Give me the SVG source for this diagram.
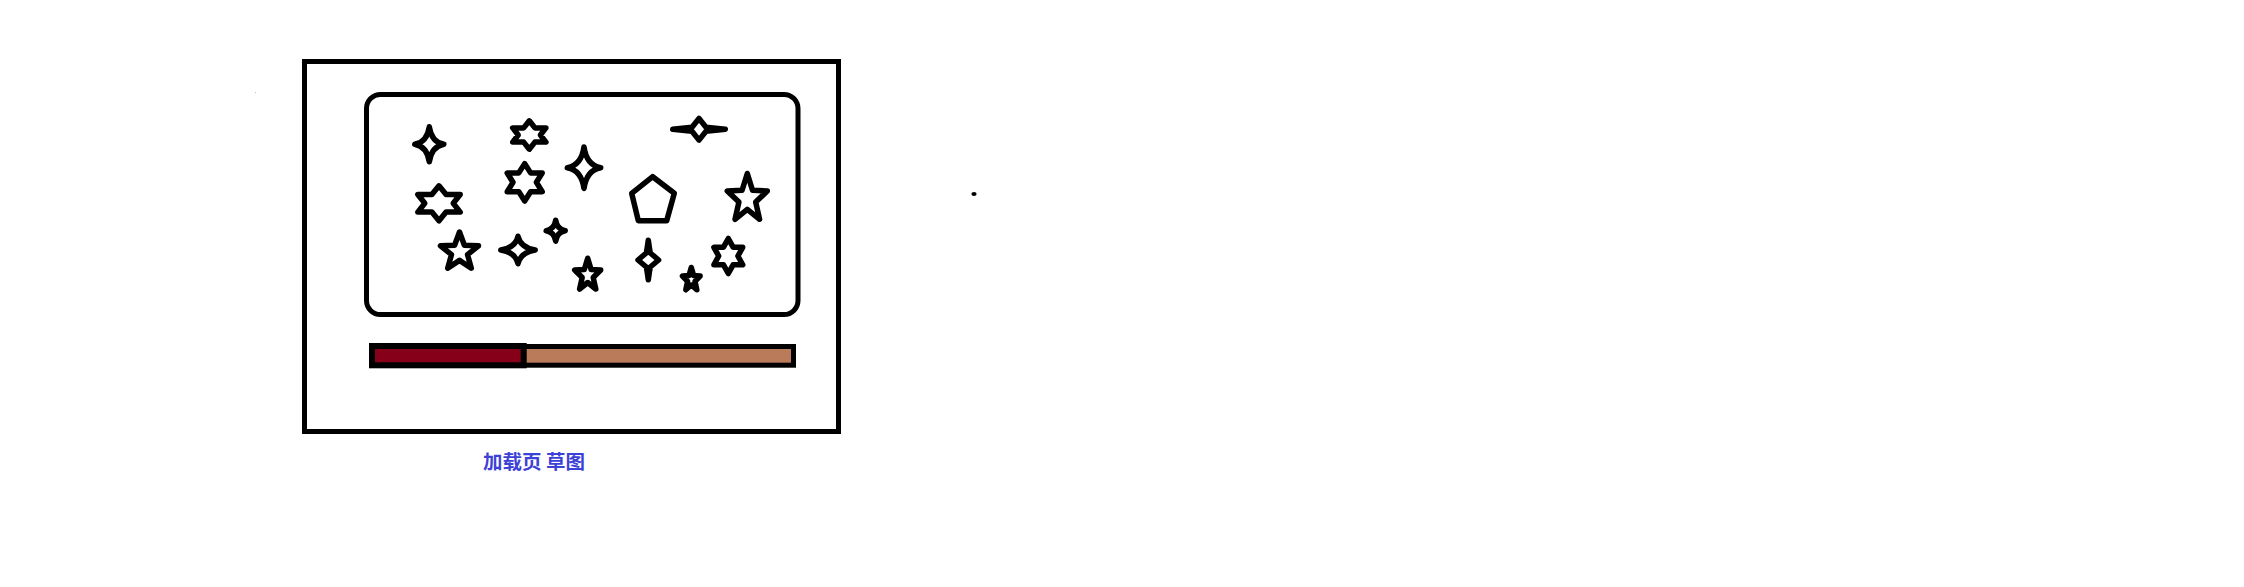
<svg xmlns="http://www.w3.org/2000/svg" width="2244" height="587" viewBox="0 0 2244 587">
<style>
.ln{fill:none;stroke:#000;stroke-width:5.5;stroke-linejoin:round;stroke-linecap:round}
.frame{fill:none;stroke:#000;stroke-width:5}
.cap{font-family:"Noto Sans CJK SC","Noto Sans",sans-serif;font-size:19.5px;font-weight:bold;fill:#3D42D6}
</style>
<rect x="0" y="0" width="2244" height="587" fill="#fff"/>
<g id="dots">
<rect x="255" y="92" width="1" height="1" fill="#E8B090"/>
<ellipse cx="974" cy="194" rx="2.6" ry="2.1" fill="#000"/>
</g>
<g id="frame">
<rect class="frame" x="304.5" y="61.5" width="534" height="370"/>
</g>
<g id="canvas">
<rect class="frame" x="366.5" y="94.5" width="431.5" height="220" rx="14" ry="14"/>
</g>
<g id="stars">
<!-- sparkles -->
<path class="ln" d="M429.3,126.8 Q431.5,142 443.8,144.3 Q431.5,146.6 429.3,161.8 Q427.1,146.6 414.8,144.3 Q427.1,142 429.3,126.8 Z"/>
<path class="ln" d="M584,146.9 Q586.5,165.2 600.7,167.7 Q586.5,170.2 584,188.5 Q581.5,170.2 567.3,167.7 Q581.5,165.2 584,146.9 Z"/>
<path class="ln" d="M518,236.3 Q520.5,247.5 535.2,250 Q520.5,252.5 518,263.7 Q515.5,252.5 500.8,250 Q515.5,247.5 518,236.3 Z"/>
<path class="ln" d="M555.7,220.2 Q557,229.4 565.2,230.7 Q557,232 555.7,241.2 Q554.4,232 546.2,230.7 Q554.4,229.4 555.7,220.2 Z"/>
<path class="ln" d="M699,118.5 L706,127.3 Q716,128.3 725.3,129.3 Q716,130.3 706,131.3 L699,140.1 L692,131.3 Q682,130.3 672.7,129.3 Q682,128.3 692,127.3 Z"/>
<path class="ln" d="M648.3,240.2 Q649.3,248 650.3,253 L658.6,260 L650.3,267 Q649.3,272 648.3,279.8 Q647.3,272 646.3,267 L638,260 L646.3,253 Q647.3,248 648.3,240.2 Z"/>
<!-- hexagrams -->
<polygon class="ln" points="529.3,120.8 534.9,127.9 545.9,127.9 540.4,135 545.9,142.1 534.9,142.1 529.3,149.2 523.7,142.1 512.7,142.1 518.2,135 512.7,127.9 523.7,127.9"/>
<polygon class="ln" points="524.7,163.6 530.6,172.9 542.2,173 536.4,182.3 542.2,191.7 530.6,191.7 524.7,201 518.8,191.7 507.2,191.7 513,182.3 507.2,173 518.8,172.9"/>
<polygon class="ln" points="439,185.8 446.1,194.5 460.2,194.5 453.2,203.3 460.2,212.1 446.1,212.1 439,220.8 431.9,212.1 417.8,212.1 424.8,203.3 417.8,194.5 431.9,194.5"/>
<polygon class="ln" points="728.3,238.5 733.1,247.2 742.7,247.3 737.9,256 742.7,264.8 733.1,264.8 728.3,273.5 723.5,264.8 713.9,264.8 718.7,256 713.9,247.3 723.5,247.2"/>
<!-- five-point stars -->
<polygon class="ln" points="459.5,232 464.4,245.2 478.5,245.8 467.5,254.6 471.3,268.2 459.5,260.4 447.7,268.2 451.5,254.6 440.5,245.8 454.6,245.2"/>
<polygon class="ln" points="747.3,173.5 752.5,190.2 767.3,191 755.7,202.1 759.6,219.3 747.3,209.4 735,219.3 738.9,202.1 727.3,191 742.1,190.2"/>
<polygon class="ln" points="587.7,258.2 591.1,269.5 600.7,270 593.2,277.5 595.8,289.1 587.7,282.5 579.6,289.1 582.2,277.5 574.7,270 584.3,269.5"/>
<polygon class="ln" points="691.3,267.5 693.6,275.6 700.1,276 695,281.4 696.8,289.8 691.3,285 685.8,289.8 687.6,281.4 682.5,276 689,275.6"/>
<!-- pentagon -->
<polygon class="ln" points="652.7,176.7 674.3,193.3 666.7,220.7 638.3,220.7 631.7,193.3"/>
</g>
<g id="progress">
<rect x="371.5" y="346.5" width="422" height="18.7" fill="#B97B59" stroke="#000" stroke-width="5"/>
<rect x="372" y="346" width="151.7" height="19.3" fill="#86001A" stroke="#000" stroke-width="6"/>
</g>
<g id="caption">
<text class="cap" x="534" y="468.5" text-anchor="middle">加载页 草图</text>
</g>
</svg>
